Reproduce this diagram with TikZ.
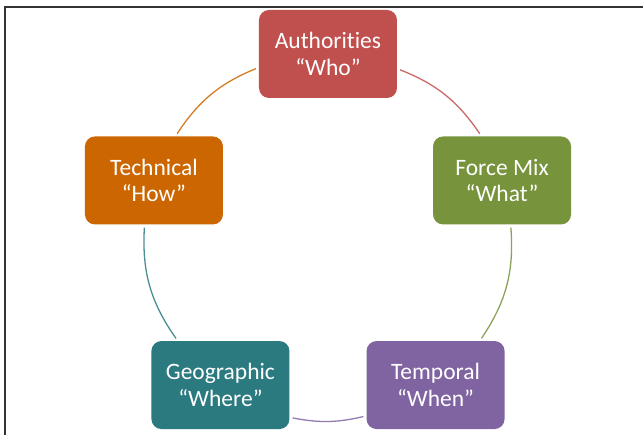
\documentclass[tikz,border=0pt]{standalone}
\usepackage{fontspec}
\setmainfont{Carlito}[Ligatures={NoCommon,TeX}]
\definecolor{authred}{RGB}{192,80,77}
\definecolor{mixgreen}{RGB}{119,147,60}
\definecolor{timepurple}{RGB}{128,100,162}
\definecolor{geoteal}{RGB}{43,122,128}
\definecolor{techorange}{RGB}{204,102,0}
\begin{document}
\begin{tikzpicture}
    [x=1pt,y=1pt,
    stage/.style={rectangle,rounded corners=10pt,minimum width=138pt,minimum height=88pt,inner sep=0pt,
        text=white,align=center,font=\fontsize{23.5}{26.6}\selectfont},
    link/.style={line width=1.3pt,shorten >=3pt,shorten <=3pt}]
		\useasboundingbox (-328,-198) rectangle (315,237);
		\draw[black!80,line width=1.3pt] (-323,-198) -- (-323,230) -- (315,230);

		\node [stage,fill=authred] (auth) at (90:183) {Authorities\\“Who”};
		\node [stage,fill=mixgreen] (mix) at (18:183) {Force Mix\\“What”};
		\node [stage,fill=timepurple] (time) at (-54:183) {Temporal\\“When”};
		\node [stage,fill=geoteal] (geo) at (-126:183) {Geographic\\“Where”};
		\node [stage,fill=techorange] (tech) at (162:183) {Technical\\“How”};

		\draw[link,techorange!85!white] (tech.64.4) to[bend left=17.3] (auth.191.1);
		\draw[link,authred!85!white] (auth.348.9) to[bend left=17.3] (mix.115.6);
		\draw[link,mixgreen!85!white] (mix.281.1) to[bend left=19.3] (time.45.7);
		\draw[link,timepurple!85!white] (time.204.1) to[bend left=12.2] (geo.335.9);
		\draw[link,geoteal!85!white] (geo.134.3) to[bend left=19.3] (tech.258.9);
    \end{tikzpicture}
\end{document}
